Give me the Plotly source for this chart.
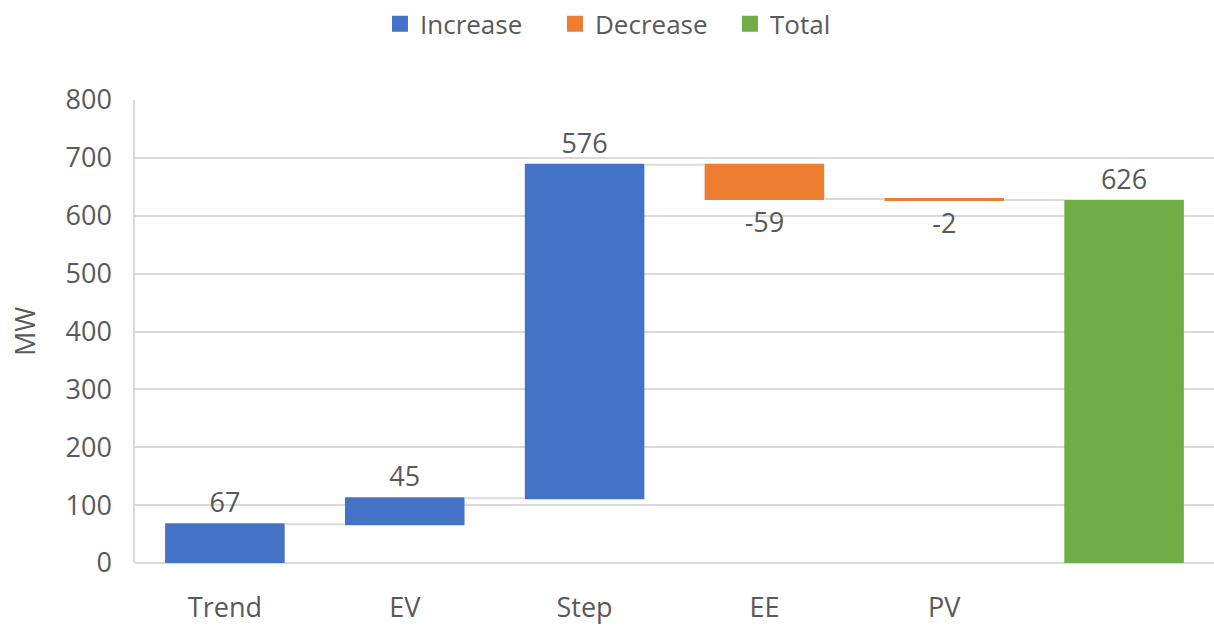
import plotly.graph_objects as go

# Waterfall of MW contributions
categories = ["Trend", "EV", "Step", "EE", "PV", " "]
values = [67, 45, 576, -59, -2, 626]
measures = ["relative", "relative", "relative", "relative", "relative", "absolute"]
labels = [str(v) for v in values]

legend_names = ["Increase", "Decrease", "Total"]
legend_colors = ["#4472C4", "#ED7D31", "#70AD47"]

TEXT = "#595959"
GRID = "#d9d9d9"
FONT = "Open Sans"
FS = 27

fig = go.Figure()
fig.add_trace(go.Waterfall(
    x=categories,
    y=values,
    measure=measures,
    text=labels,
    textposition="outside",
    textfont=dict(size=FS, color=TEXT, family=FONT),
    increasing=dict(marker=dict(color=legend_colors[0])),
    decreasing=dict(marker=dict(color=legend_colors[1])),
    totals=dict(marker=dict(color=legend_colors[2])),
    connector=dict(line=dict(color=GRID, width=2)),
    showlegend=False,
    cliponaxis=False,
    hoverinfo="x+y",
))

# Legend entries for the three bar kinds
for name, color in zip(legend_names, legend_colors):
    fig.add_trace(go.Scatter(
        x=[None], y=[None], mode="markers", name=name,
        marker=dict(symbol="square", size=16, color=color),
    ))

fig.update_layout(
    width=1214, height=626,
    margin=dict(l=135, r=0, t=100, b=63),
    paper_bgcolor="white",
    plot_bgcolor="white",
    font=dict(family=FONT, size=FS, color=TEXT),
    waterfallgap=0.335,
    showlegend=True,
    legend=dict(
        orientation="h",
        xref="container", x=0.313, xanchor="left",
        yref="container", y=0.962, yanchor="middle",
        font=dict(size=26, color=TEXT, family=FONT),
        entrywidth=130,
        entrywidthmode="pixels",
    ),
    xaxis=dict(
        type="category",
        showgrid=False,
        showline=False,
        ticks="",
        ticklabelstandoff=26,
        tickfont=dict(size=FS, color=TEXT),
    ),
    yaxis=dict(
        range=[0, 800],
        dtick=100,
        showgrid=True,
        gridcolor=GRID,
        gridwidth=1.5,
        showline=True,
        linecolor=GRID,
        linewidth=1.5,
        zeroline=True,
        zerolinecolor=GRID,
        zerolinewidth=1.5,
        ticks="",
        ticklabelstandoff=16,
        tickfont=dict(size=FS, color=TEXT),
        title=dict(text="MW", font=dict(size=FS, color=TEXT), standoff=22),
    ),
)

fig.write_html("out.html")
